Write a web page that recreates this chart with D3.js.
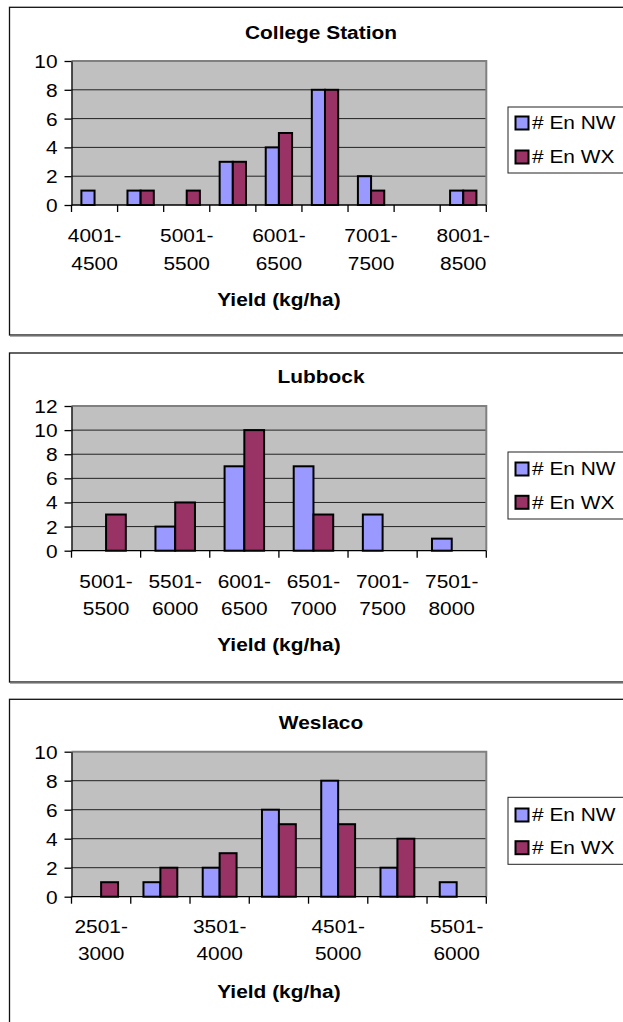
<!DOCTYPE html>
<html>
<head>
<meta charset="utf-8">
<script src="https://cdn.jsdelivr.net/npm/d3@7"></script>
<style>
  html, body { margin: 0; padding: 0; background: #fff; }
  svg { display: block; }
</style>
</head>
<body>
<svg id="chart" width="623" height="1022"></svg>
<script>
// ---- data ----
const seriesNames = ["# En NW", "# En WX"];
const seriesColors = ["#9999FF", "#993366"];
const axisTitle = "Yield (kg/ha)";

const csTitle = "College Station";
const csCategories = ["4001-4500", "4501-5000", "5001-5500", "5501-6000", "6001-6500",
                      "6501-7000", "7001-7500", "7501-8000", "8001-8500"];
const csNW = [1, 1, 0, 3, 4, 8, 2, 0, 1];
const csWX = [0, 1, 1, 3, 5, 8, 1, 0, 1];
const csYTicks = [0, 2, 4, 6, 8, 10];

const lbTitle = "Lubbock";
const lbCategories = ["5001-5500", "5501-6000", "6001-6500", "6501-7000", "7001-7500", "7501-8000"];
const lbNW = [0, 2, 7, 7, 3, 1];
const lbWX = [3, 4, 10, 3, 0, 0];
const lbYTicks = [0, 2, 4, 6, 8, 10, 12];

const wsTitle = "Weslaco";
const wsCategories = ["2501-3000", "3001-3500", "3501-4000", "4001-4500", "4501-5000",
                      "5001-5500", "5501-6000"];
const wsNW = [0, 1, 2, 6, 8, 2, 1];
const wsWX = [1, 2, 3, 5, 5, 4, 0];
const wsYTicks = [0, 2, 4, 6, 8, 10];

// ---- layout of the three stacked panels ----
const FONT = "'Liberation Sans', Arial, Helvetica, sans-serif";
const FS = 18.5;    // font size
const SX = 1.13;    // horizontal text stretch
const plotLeft = 71.5, plotRight = 486.3;

const panels = [
  { title: csTitle, cats: csCategories, nw: csNW, wx: csWX, ticks: csYTicks, every: 2,
    boxTop: 7.3, boxBottom: 335, titleY: 32.7, plotTop: 61, plotBottom: 205,
    lab1: 236, lab2: 263.3, axisY: 300, legTop: 107, legBottom: 173, items: [123, 157] },
  { title: lbTitle, cats: lbCategories, nw: lbNW, wx: lbWX, ticks: lbYTicks, every: 1,
    boxTop: 353, boxBottom: 682, titleY: 376.7, plotTop: 406, plotBottom: 550.7,
    lab1: 581.7, lab2: 608.3, axisY: 645, legTop: 452, legBottom: 519, items: [469, 502.3] },
  { title: wsTitle, cats: wsCategories, nw: wsNW, wx: wsWX, ticks: wsYTicks, every: 2,
    boxTop: 699.3, boxBottom: 1040, titleY: 722.7, plotTop: 751.7, plotBottom: 896.7,
    lab1: 926.7, lab2: 954, axisY: 991.7, legTop: 797.3, legBottom: 864.3, items: [815, 847.7] }
];

const svg = d3.select("#chart");

function addText(g, x, y, str, weight, anchor) {
  return g.append("text")
    .attr("transform", `translate(${x},${y}) scale(${SX},1)`)
    .attr("text-anchor", anchor || "middle")
    .attr("dy", "0.35em")
    .style("font-family", FONT)
    .style("font-size", FS + "px")
    .style("font-weight", weight || "normal")
    .attr("fill", "#000")
    .text(str);
}

function drawPanel(p) {
  const g = svg.append("g");

  // chart frame
  g.append("rect")
    .attr("x", 9.5).attr("y", p.boxTop)
    .attr("width", 640).attr("height", p.boxBottom - p.boxTop)
    .attr("fill", "#fff").attr("stroke", "#111").attr("stroke-width", 1.3);
  g.append("line")
    .attr("x1", 10).attr("x2", 640)
    .attr("y1", p.boxBottom + 1.2).attr("y2", p.boxBottom + 1.2)
    .attr("stroke", "#888").attr("stroke-width", 1);

  // title
  addText(g, 321, p.titleY, p.title, "bold");

  // scales
  const x = d3.scaleBand().domain(p.cats).range([plotLeft, plotRight])
    .paddingInner(0).paddingOuter(0);
  const xs = d3.scaleBand().domain(seriesNames).range([0, x.bandwidth()])
    .paddingInner(0).paddingOuter(0.75);
  const yMax = d3.max(p.ticks);
  const y = d3.scaleLinear().domain([0, yMax]).range([p.plotBottom, p.plotTop]);

  // plot area
  g.append("rect")
    .attr("x", plotLeft).attr("y", p.plotTop)
    .attr("width", plotRight - plotLeft).attr("height", p.plotBottom - p.plotTop)
    .attr("fill", "#C0C0C0");

  // gridlines
  g.append("g").selectAll("line")
    .data(p.ticks.filter(t => t > 0 && t < yMax))
    .join("line")
    .attr("x1", plotLeft).attr("x2", plotRight)
    .attr("y1", d => y(d)).attr("y2", d => y(d))
    .attr("stroke", "#222").attr("stroke-width", 1);

  // plot border (top and right)
  g.append("path")
    .attr("d", `M${plotLeft},${p.plotTop}H${plotRight}V${p.plotBottom}`)
    .attr("fill", "none").attr("stroke", "#808080").attr("stroke-width", 2);

  // bars
  const rows = p.cats.map((c, i) => ({ cat: c, vals: [p.nw[i], p.wx[i]] }));
  const groups = g.append("g").selectAll("g")
    .data(rows).join("g")
    .attr("transform", d => `translate(${x(d.cat)},0)`);
  groups.selectAll("rect")
    .data(d => d.vals.map((v, k) => ({ name: seriesNames[k], v, k })).filter(e => e.v > 0))
    .join("rect")
    .attr("x", e => xs(e.name))
    .attr("width", xs.bandwidth())
    .attr("y", e => y(e.v))
    .attr("height", e => y(0) - y(e.v))
    .attr("fill", e => seriesColors[e.k])
    .attr("stroke", "#000").attr("stroke-width", 2);

  // y axis
  const yAxis = g.append("g")
    .attr("transform", `translate(${plotLeft},0)`)
    .call(d3.axisLeft(y).tickValues(p.ticks).tickSize(7).tickSizeOuter(0).tickFormat(d3.format("d")));
  yAxis.select(".domain").attr("stroke", "#000").attr("stroke-width", 1.3);
  yAxis.selectAll(".tick line").attr("stroke", "#000").attr("stroke-width", 1.3);
  yAxis.selectAll(".tick text")
    .attr("x", null).attr("dy", "0.35em")
    .attr("transform", `translate(-14,0) scale(${SX},1)`)
    .style("font-family", FONT).style("font-size", FS + "px").attr("fill", "#000");

  // x axis: ticks at category boundaries
  const bounds = p.cats.map(c => x(c)).concat([x(p.cats[p.cats.length - 1]) + x.step()]);
  g.append("line")
    .attr("x1", plotLeft).attr("x2", plotRight)
    .attr("y1", y(0)).attr("y2", y(0))
    .attr("stroke", "#000").attr("stroke-width", 1.3);
  g.append("g").selectAll("line")
    .data(bounds).join("line")
    .attr("x1", d => d).attr("x2", d => d)
    .attr("y1", y(0)).attr("y2", y(0) + 7)
    .attr("stroke", "#000").attr("stroke-width", 1.3);

  // category labels on two lines
  p.cats.forEach((c, i) => {
    if (i % p.every !== 0) return;
    const parts = c.split("-");
    const cx = x(c) + x.bandwidth() / 2;
    addText(g, cx, p.lab1, parts[0] + "-");
    addText(g, cx, p.lab2, parts[1]);
  });

  // axis title
  addText(g, (plotLeft + plotRight) / 2, p.axisY, axisTitle, "bold");

  // legend
  g.append("rect")
    .attr("x", 508).attr("y", p.legTop)
    .attr("width", 140).attr("height", p.legBottom - p.legTop)
    .attr("fill", "#fff").attr("stroke", "#222").attr("stroke-width", 1);
  seriesNames.forEach((name, k) => {
    const cy = p.items[k];
    g.append("rect")
      .attr("x", 515.5).attr("y", cy - 6.5)
      .attr("width", 13).attr("height", 13)
      .attr("fill", seriesColors[k]).attr("stroke", "#000").attr("stroke-width", 2);
    addText(g, 532, cy, name, "normal", "start");
  });
}

panels.forEach(drawPanel);
</script>
</body>
</html>
